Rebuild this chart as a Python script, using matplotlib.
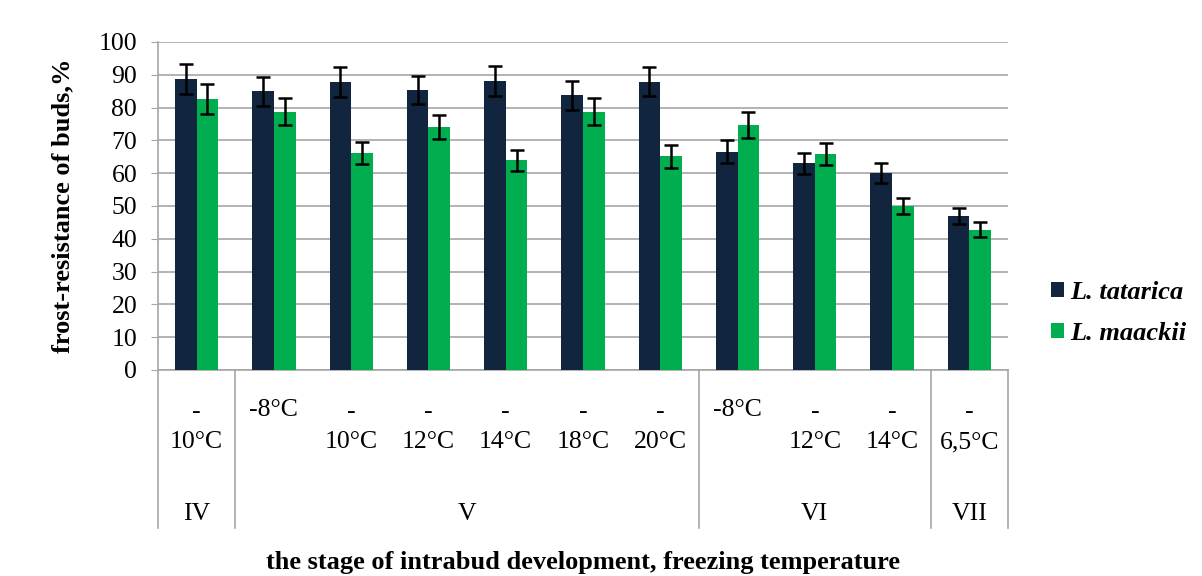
import matplotlib
matplotlib.use("Agg")
import matplotlib.pyplot as plt
import matplotlib.transforms as mtransforms
import numpy as np

plt.rcParams['font.family'] = ['Liberation Serif', 'DejaVu Serif']

temps = ['-10°C', '-8°C', '-10°C', '-12°C', '-14°C', '-18°C', '-20°C',
         '-8°C', '-12°C', '-14°C', '-6,5°C']
stages = ['IV', 'V', 'VI', 'VII']
stage_sizes = [1, 6, 3, 1]

tatarica = [88.6, 85.0, 87.8, 85.4, 88.2, 83.8, 87.9, 66.6, 63.1, 60.1, 47.0]
tatarica_err = [4.6, 4.4, 4.6, 4.3, 4.6, 4.4, 4.4, 3.4, 3.2, 3.1, 2.4]
maackii = [82.7, 78.8, 66.2, 74.0, 64.0, 78.8, 65.1, 74.8, 65.9, 49.9, 42.8]
maackii_err = [4.5, 4.1, 3.4, 3.7, 3.2, 4.0, 3.4, 4.0, 3.4, 2.4, 2.2]

dark = '#12253F'
green = '#00AE4F'
grid_c = '#A6A6A6'
fs = 18.5

fig = plt.figure(figsize=(12.02, 5.76), dpi=100)
ax = fig.add_axes([158/1202, 206/576, 850/1202, 328/576])

x = np.arange(len(temps))
w = 0.28
err_kw = dict(ecolor='black', elinewidth=1.8, capsize=5, capthick=1.8)
b1 = ax.bar(x - w/2, tatarica, w, color=dark, yerr=tatarica_err,
            error_kw=err_kw, label='L. tatarica', zorder=3)
b2 = ax.bar(x + w/2, maackii, w, color=green, yerr=maackii_err,
            error_kw=err_kw, label='L. maackii', zorder=3)

ax.set_xlim(-0.5, len(temps) - 0.5)
ax.set_ylim(0, 100)
ax.set_yticks(range(0, 101, 10))
ax.yaxis.grid(True, color=grid_c, linewidth=1.2, zorder=0)
ax.tick_params(axis='y', labelsize=fs, length=5, color=grid_c, pad=10)
ax.set_xticks([])
for s in ['top', 'right']:
    ax.spines[s].set_visible(False)
ax.spines['left'].set_color(grid_c)
ax.spines['bottom'].set_color(grid_c)
ax.spines['left'].set_linewidth(1.2)
ax.spines['bottom'].set_linewidth(1.2)

ax.set_ylabel('frost-resistance of buds,%', fontsize=19, fontweight='bold')
ax.yaxis.set_label_coords(-0.098, 0.5)

# multi-level category axis
trans = mtransforms.blended_transform_factory(ax.transData, ax.transAxes)
def ay(py):
    return (370 - py) / 328

bounds = [-0.5]
for n in stage_sizes:
    bounds.append(bounds[-1] + n)
for b in bounds:
    ax.plot([b, b], [0, ay(528)], color=grid_c, linewidth=1.2,
            transform=trans, clip_on=False)

for i, t in enumerate(temps):
    if len(t) > 4:
        ax.text(i, ay(412), '-', ha='center', va='center', fontsize=fs, transform=trans)
        ax.text(i, ay(442), t[1:], ha='center', va='center', fontsize=fs, transform=trans)
    else:
        ax.text(i, ay(410), t, ha='center', va='center', fontsize=fs, transform=trans)

for k, st in enumerate(stages):
    cx = (bounds[k] + bounds[k + 1]) / 2
    ax.text(cx, ay(514), st, ha='center', va='center', fontsize=fs, transform=trans)

fig.text(583/1202, 1 - 562/576, 'the stage of intrabud development, freezing temperature',
         ha='center', va='center', fontsize=19, fontweight='bold')

ax.legend(handles=[b1, b2], loc='center left',
          bbox_to_anchor=(1027/1202, 1 - 313/576), bbox_transform=fig.transFigure,
          frameon=False, handlelength=0.5, handleheight=0.5, handletextpad=0.25,
          labelspacing=0.67,
          prop=dict(family='Liberation Serif', weight='bold', style='italic', size=19))

fig.savefig('out.png', dpi=100)
